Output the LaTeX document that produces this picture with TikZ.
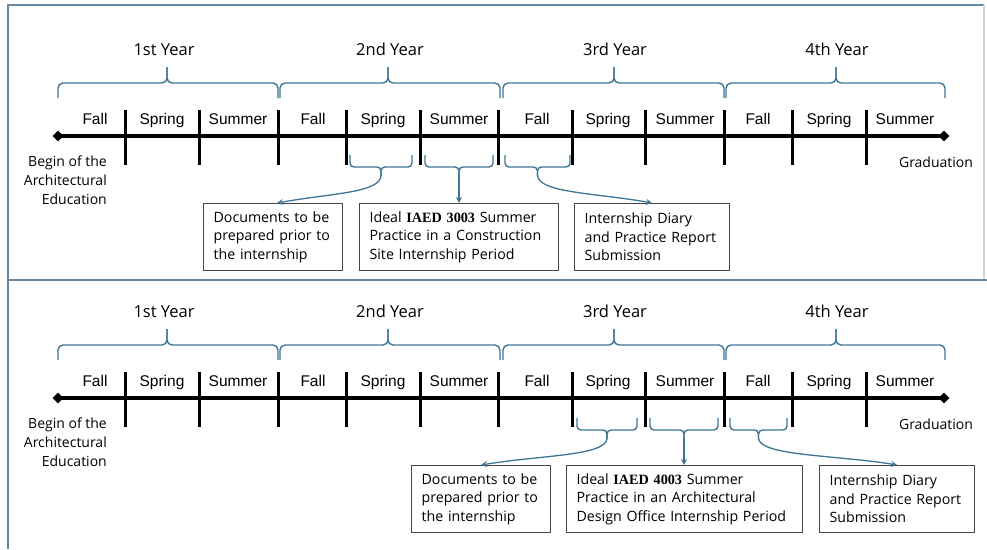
\documentclass[tikz,border=0pt]{standalone}
\usepackage{fontspec}
\setmainfont{Open Sans}
\newfontfamily\seasonfont{Liberation Sans}
\newfontfamily\coursefont{Liberation Serif}
\usetikzlibrary{shapes.geometric, arrows.meta}
\definecolor{braceblue}{RGB}{62,116,148}
\definecolor{framegray}{RGB}{100,136,160}
\definecolor{boxgray}{RGB}{70,70,70}
\tikzset{
    bracket/.style={draw=braceblue, line width=1.4pt, rounded corners=5pt}, % the blue braces
    link/.style={draw=braceblue, line width=1.3pt, -{Stealth[length=6pt, width=6pt]}}, % arrows to the boxes
    infobox/.style={draw=boxgray, line width=1.2pt, anchor=north west, inner xsep=10pt, inner ysep=0pt,
        minimum height=67pt, align=left, font=\fontsize{14.2}{18.5}\selectfont},
}

\begin{document}
\begin{tikzpicture}[
        x=1pt, y=-1pt,
        axis/.style={line width=3.2pt},
        tickmark/.style={line width=3pt},
        endmark/.style={diamond, fill=black, minimum size=11pt, inner sep=0pt},
        season/.style={font=\seasonfont\fontsize{15.5}{15.5}\selectfont, anchor=base},
        yearlabel/.style={font=\fontsize{16.5}{16.5}\selectfont, anchor=base},
        note/.style={font=\fontsize{14}{19}\selectfont, inner sep=0pt},
        frame/.style={draw=framegray, line width=2.5pt},
    ]
    \useasboundingbox (0,0) rectangle (987,549);
    % outer frame and panel separator
    \draw[frame] (8,549) -- (8,5) -- (984,5);
    \draw[frame, draw=framegray!35] (984,5) -- (984,280);
    \draw[frame] (8,280) -- (987,280);

    % the same timeline in both panels
    \foreach \oy/\p in {0/a, 262/b} {
        \begin{scope}[shift={(0,\oy)}]
            \node[endmark] (start\p) at (58,136) {};
            \node[endmark] (end\p) at (944,136) {};
            \draw[axis] (start\p.center) -- (end\p.center);
            \foreach \x in {125,199,278,346,420,498,572,645,724,792,866}
                \draw[tickmark] (\x,110) -- (\x,165);
            \foreach \x/\s in {95/Fall, 162/Spring, 238/Summer, 313/Fall, 383/Spring, 459/Summer,
                    537/Fall, 608/Spring, 685/Summer, 758/Fall, 829/Spring, 905/Summer}
                \node[season] at (\x,124.5) {\s};
            \foreach \l/\m/\r in {58/167/278, 280/388/500, 503/614/724, 726/836/945} {
                \draw[bracket] (\l,98) -- (\l,83) -- (\m,83) -- (\m,67);
                \draw[bracket] (\r,98) -- (\r,83) -- (\m,83) -- (\m,67);
            }
            \node[yearlabel] (y1\p) at (164,55) {1st Year};
            \node[yearlabel] (y2\p) at (390,55) {2nd Year};
            \node[yearlabel] (y3\p) at (615,55) {3rd Year};
            \node[yearlabel] (y4\p) at (837,55) {4th Year};
            \node[note, align=right, anchor=north east] (begin\p) at (107,155.5) {Begin of the\\Architectural\\Education};
            \node[note, anchor=base] (grad\p) at (936,167) {Graduation};
        \end{scope}
    }

    % top panel: IAED 3003
    \foreach \l/\m/\r in {350/381/412, 425/459/493, 505/537.5/570} {
        \draw[bracket, rounded corners=4pt] (\l,155) -- (\l,167) -- (\m,167) -- (\m,176);
        \draw[bracket, rounded corners=4pt] (\r,155) -- (\r,167) -- (\m,167) -- (\m,176);
    }
    \coordinate (tipa1) at (381,175);
    \coordinate (tipa2) at (459,175);
    \coordinate (tipa3) at (537.5,175);
    \node[infobox, text width=119pt] (docsa) at (203,203) {Documents to be\\prepared prior to\\the internship};
    \node[infobox, text width=179pt] (ideala) at (359,203) {Ideal {\coursefont\bfseries IAED 3003} Summer\\Practice in a Construction\\Site Internship Period};
    \node[infobox, text width=135pt] (diarya) at (574,203) {Internship Diary\\and Practice Report\\Submission};
    \draw[link] (tipa1) .. controls +(0,18) and +(55,-10) .. ([xshift=4pt]docsa.north);
    \draw[link] (tipa2) -- (tipa2 |- ideala.north);
    \draw[link] (tipa3) .. controls +(0,18) and +(-55,-10) .. (diarya.north);

    % bottom panel: IAED 4003
    \begin{scope}[shift={(0,262)}]
        \foreach \l/\m/\r in {577/607/637, 650/684/718, 730/758.5/787} {
            \draw[bracket, rounded corners=4pt] (\l,156) -- (\l,168) -- (\m,168) -- (\m,177);
            \draw[bracket, rounded corners=4pt] (\r,156) -- (\r,168) -- (\m,168) -- (\m,177);
        }
        \coordinate (tipb1) at (607,176);
        \coordinate (tipb2) at (684,176);
        \coordinate (tipb3) at (758.5,176);
        \node[infobox, text width=119pt] (docsb) at (411,203) {Documents to be\\prepared prior to\\the internship};
        \node[infobox, text width=216pt] (idealb) at (566,203) {Ideal {\coursefont\bfseries IAED 4003} Summer\\Practice in an Architectural\\Design Office Internship Period};
        \node[infobox, text width=135pt] (diaryb) at (819,203) {Internship Diary\\and Practice Report\\Submission};
        \draw[link] (tipb1) .. controls +(0,18) and +(60,-10) .. (docsb.north);
        \draw[link] (tipb2) -- (tipb2 |- idealb.north);
        \draw[link] (tipb3) .. controls +(0,18) and +(-60,-10) .. (diaryb.north);
    \end{scope}
\end{tikzpicture}
\end{document}
